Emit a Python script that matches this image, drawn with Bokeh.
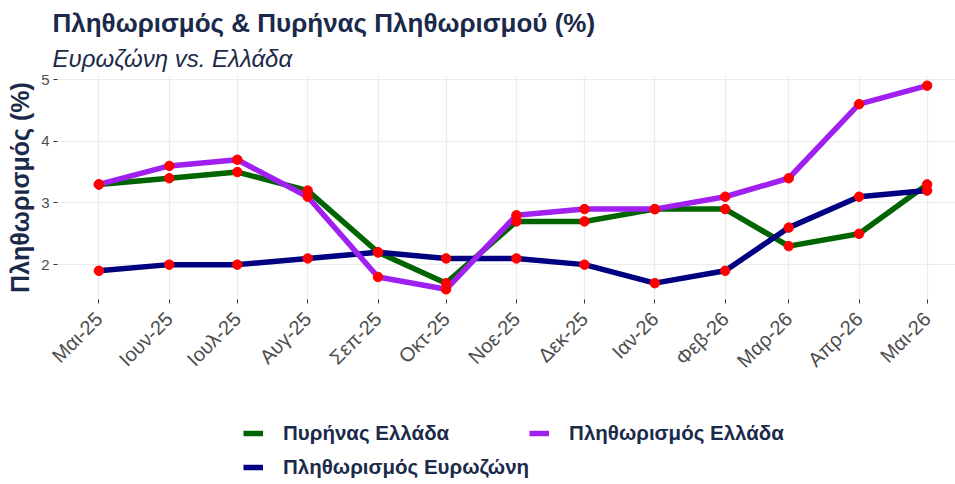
import pandas as pd
from bokeh.plotting import figure
from bokeh.layouts import column
from bokeh.models import (ColumnDataSource, Range1d, FixedTicker, Legend, LegendItem, Title)
from bokeh.embed import file_html
from bokeh.resources import INLINE
import math

# ---- data ----
month_starts = ["2025-05-01", "2025-06-01", "2025-07-01", "2025-08-01", "2025-09-01",
                "2025-10-01", "2025-11-01", "2025-12-01", "2026-01-01", "2026-02-01",
                "2026-03-01", "2026-04-01", "2026-05-01"]
tick_labels = ["Μαι-25", "Ιουν-25", "Ιουλ-25", "Αυγ-25", "Σεπ-25", "Οκτ-25", "Νοε-25",
               "Δεκ-25", "Ιαν-26", "Φεβ-26", "Μαρ-26", "Απρ-26", "Μαι-26"]
core_greece = [3.3, 3.4, 3.5, 3.2, 2.2, 1.7, 2.7, 2.7, 2.9, 2.9, 2.3, 2.5, 3.3]
hicp_greece = [3.3, 3.6, 3.7, 3.1, 1.8, 1.6, 2.8, 2.9, 2.9, 3.1, 3.4, 4.6, 4.9]
hicp_euro = [1.9, 2.0, 2.0, 2.1, 2.2, 2.1, 2.1, 2.0, 1.7, 1.9, 2.6, 3.1, 3.2]
series_names = ["Πυρήνας Ελλάδα", "Πληθωρισμός Ελλάδα", "Πληθωρισμός Ευρωζώνη"]
y_ticks = [2, 3, 4, 5]

dates = pd.to_datetime(month_starts)
xdays = [int((d - dates[0]).days) for d in dates]

TXT = "#1B2A4A"
FONT = "Liberation Sans"
COLORS = {"core": "#006400", "euro": "#000080", "hicp": "#A020F0"}

src = ColumnDataSource(dict(x=xdays, core=core_greece, hicp=hicp_greece, euro=hicp_euro))

p = figure(width=955, height=400, output_backend="svg", toolbar_location=None,
           x_range=Range1d(-18.25, 377.5), y_range=Range1d(1.435, 5.065),
           min_border_left=57, min_border_right=0, min_border_top=75, min_border_bottom=101)
p.outline_line_color = None
p.background_fill_color = "white"

for col in ["core", "euro", "hicp"]:
    p.line("x", col, source=src, line_color=COLORS[col], line_width=5.5)
for col in ["core", "euro", "hicp"]:
    p.scatter("x", col, source=src, size=9.5, color="red", line_color="red")

# axes
p.xaxis.ticker = FixedTicker(ticks=xdays)
p.xaxis.major_label_overrides = {x: lab for x, lab in zip(xdays, tick_labels)}
p.xaxis.major_label_orientation = math.pi / 4
p.yaxis.ticker = FixedTicker(ticks=y_ticks)
for ax in (p.xaxis, p.yaxis):
    ax.axis_line_color = None
    ax.major_tick_line_color = "#333333"
    ax.major_tick_in = 0
    ax.major_tick_out = 4
    ax.minor_tick_line_color = None
    ax.major_label_text_color = "#4D4D4D"
    ax.major_label_text_font = FONT
p.yaxis.major_label_text_font_size = "15px"
p.xaxis.major_label_text_font_size = "20px"
p.yaxis.major_label_standoff = 4
p.xaxis.major_label_standoff = 12
p.yaxis.axis_label = "Πληθωρισμός (%)"
p.yaxis.axis_label_text_font = FONT
p.yaxis.axis_label_text_font_size = "25px"
p.yaxis.axis_label_text_font_style = "bold"
p.yaxis.axis_label_text_color = TXT
p.yaxis.axis_label_standoff = 4

p.xgrid.grid_line_color = "#EBEBEB"
p.ygrid.grid_line_color = "#EBEBEB"
p.xgrid.grid_line_width = 1.2
p.ygrid.grid_line_width = 1.2

# titles
p.title.text = ""
p.add_layout(Title(text="Ευρωζώνη vs. Ελλάδα", text_font=FONT, text_font_size="24px",
                   text_font_style="italic", text_color=TXT, align="left",
                   offset=-5, standoff=8), "above")
p.add_layout(Title(text="Πληθωρισμός & Πυρήνας Πληθωρισμού (%)", text_font=FONT,
                   text_font_size="26px", text_font_style="bold", text_color=TXT,
                   align="left", offset=-5, standoff=2), "above")

# legend panel (separate figure; its lines lie outside its visible range)
lf = figure(width=955, height=84, output_backend="svg", toolbar_location=None,
            x_range=Range1d(1000, 1001), y_range=Range1d(1000, 1001),
            x_axis_location=None, y_axis_location=None,
            min_border_left=0, min_border_right=0, min_border_top=0, min_border_bottom=0)
lf.outline_line_color = None
lf.grid.visible = False
lr = {col: lf.line("x", col, source=src, line_color=COLORS[col], line_width=5.5)
      for col in ["core", "euro", "hicp"]}
legend = Legend(items=[LegendItem(label=series_names[0], renderers=[lr["core"]]),
                       LegendItem(label=series_names[1], renderers=[lr["hicp"]]),
                       LegendItem(label=series_names[2], renderers=[lr["euro"]])],
                orientation="horizontal", ncols=2, location=(186, 0),
                label_text_font=FONT, label_text_font_size="20.5px",
                label_text_font_style="bold", label_text_color=TXT,
                glyph_width=20, glyph_height=34, label_standoff=20, spacing=0,
                border_line_color=None, background_fill_alpha=0, margin=0, padding=0)
lf.add_layout(legend, "center")

layout = column(p, lf, spacing=0)
open("out.html", "w").write(file_html(layout, INLINE))
